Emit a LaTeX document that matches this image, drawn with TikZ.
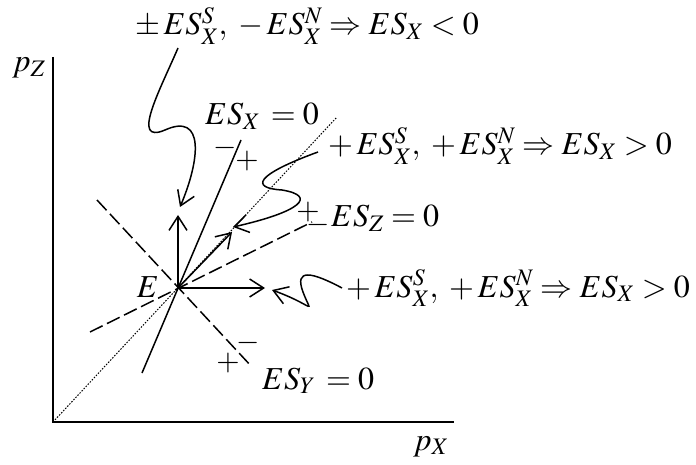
\documentclass[tikz,border=0pt]{standalone}
\usepackage{mathptmx}
\usetikzlibrary{arrows.meta}
\tikzset{
  lbl/.style={inner sep=0pt, font=\fontsize{32}{38}\selectfont},
  sgn/.style={inner sep=0pt, font=\fontsize{30}{36}\selectfont},
  vec/.style={-{Straight Barb[length=14pt,width=18pt]}, line width=1.5pt},
  wavy/.style={-{Straight Barb[length=14pt,width=18pt]}, line width=1.5pt},
  axis/.style={line width=2pt},
  zeroline/.style={line width=1.5pt},
  zerodash/.style={line width=1.5pt, dash pattern=on 14pt off 5pt},
  diagline/.style={line width=1pt, dash pattern=on 1.5pt off 1.5pt}
}

\begin{document}
\begin{tikzpicture}[x=1pt,y=-1pt]
\useasboundingbox (0,0) rectangle (696,465);
% axes
\coordinate (O) at (53,422);
\coordinate (ztop) at (53,57);
\coordinate (xend) at (454,422);
\draw[axis] (ztop) -- (O) -- (xend);
\node[lbl, anchor=base west] (pz) at (12,72) {$p_Z$};
\node[lbl, anchor=base west] (px) at (413,450) {$p_X$};

% point E and the three zero lines
\coordinate (E) at (178,288);
\node[lbl, anchor=base east] (Elbl) at (159,297) {$E$};
\coordinate (diagend) at (337,117);
\draw[diagline] (O) -- (diagend);
\coordinate (xa) at (142,373);
\coordinate (xb) at (241,140);
\draw[zeroline] (xa) -- (xb);
\coordinate (za) at (90,332);
\coordinate (zb) at (312,222);
\draw[zerodash] (za) -- (zb);
\coordinate (ya) at (97,200);
\coordinate (yb) at (252,367);
\draw[zerodash] (ya) -- (yb);

% arrows from E
\coordinate (up) at (178,215);
\coordinate (dg) at (232,232);
\coordinate (rt) at (265,288);
\draw[vec] (E) -- (up);
\draw[vec] (E) -- (dg);
\draw[vec] (E) -- (rt);

% labels
\node[lbl, anchor=base west] (t1) at (135,35) {$\pm\,ES^S_X,\; -\,ES^N_X \Rightarrow ES_X < 0$};
\node[lbl, anchor=base west] (sx) at (205,125) {$ES_X\, = 0$};
\node[sgn] (sxm) at (225,148) {$-$};
\node[sgn] (sxp) at (247,161) {$+$};
\node[lbl, anchor=base west] (t2) at (328,155) {$+\,ES^S_X,\; +\,ES^N_X \Rightarrow ES_X > 0$};
\node[sgn] (szp) at (308,212) {$+$};
\node[sgn] (szm) at (318,225) {$-$};
\node[lbl, anchor=base west] (sz) at (331,227) {$ES_Z = 0$};
\node[lbl, anchor=base west] (t3) at (346,297) {$+\,ES^S_X,\; +\,ES^N_X \Rightarrow ES_X > 0$};
\node[sgn] (sym) at (248,343) {$-$};
\node[sgn] (syp) at (228,363) {$+$};
\node[lbl, anchor=base west] (sy) at (262,389) {$ES_Y\, = 0$};

% wavy pointers
\coordinate (w1) at (178,48);
\coordinate (w1tip) at (180,207);
\draw[wavy] (w1) .. controls (160,90) and (130,145) .. (165,130)
  .. controls (205,112) and (200,160) .. (w1tip);
\coordinate (w2) at (318,152);
\coordinate (w2tip) at (233,227);
\draw[wavy] (w2) .. controls (255,175) and (250,188) .. (282,190)
  .. controls (318,196) and (300,212) .. (w2tip);
\coordinate (w3) at (342,288);
\coordinate (w3tip) at (272,290);
\draw[wavy] (w3) .. controls (312,272) and (294,268) .. (303,292)
  .. controls (312,316) and (316,306) .. (w3tip);
\end{tikzpicture}
\end{document}
